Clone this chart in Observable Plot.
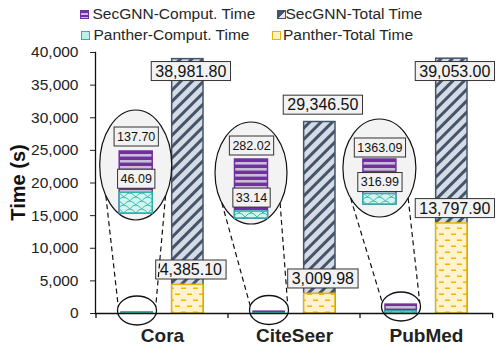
<!DOCTYPE html>
<html><head><meta charset="utf-8">
<script src="https://cdn.jsdelivr.net/npm/d3@7"></script>
<script src="https://cdn.jsdelivr.net/npm/@observablehq/plot@0.6"></script>
<style>
body{margin:0;background:#fff;font-family:"Liberation Sans",Arial,sans-serif;}
#wrap{position:relative;width:498px;height:350px;overflow:hidden;}
#legend{position:relative;height:45px;width:498px;font-size:15.5px;color:#262626;}
.li{position:absolute;white-space:nowrap;line-height:18px;}
.sw{position:absolute;box-sizing:border-box;width:9px;height:9px;}
</style></head><body>
<div id="wrap"><div id="legend"></div><div id="chart"></div></div>
<script>
// ---- data ----
const datasets = ["Cora", "CiteSeer", "PubMed"];
const secgnnComput = [137.70, 282.02, 1363.09];
const pantherComput = [46.09, 33.14, 316.99];
const secgnnTotal = [38981.80, 29346.50, 39053.00];
const pantherTotal = [4385.10, 3009.98, 13797.90];
const yTicks = [0, 5000, 10000, 15000, 20000, 25000, 30000, 35000, 40000];
const seriesNames = ["SecGNN-Comput. Time", "SecGNN-Total Time", "Panther-Comput. Time", "Panther-Total Time"];
const yTitle = "Time (s)";

// ---- layout ----
const W = 498, H = 305, ML = 95, MR = 5, MT = 7, MB = 37;
const BW = (W - ML - MR) / datasets.length, BAR = 32, SIDE = 25, INNER = BW - SIDE - BAR;
const totC = BW / 2 - SIDE - BAR / 2;
const fmtMain = d3.format(",.2f"), fmtSmall = d3.format(".2f");
const rows = datasets.map((g, i) => ({g, sc: secgnnComput[i], pc: pantherComput[i], st: secgnnTotal[i], pt: pantherTotal[i]}));

const col = {
  sc: {fill: "url(#pSecComp)", stroke: "#7030a0"},
  pc: {fill: "url(#pPanComp)", stroke: "#2bb5a9"},
  st: {fill: "url(#pSecTot)", stroke: "#44546a"},
  pt: {fill: "url(#pPanTot)", stroke: "#e8b400"}
};

// ---- legend ----
const legendItems = [
  {name: seriesNames[0], sw: 80, tx: 92.5, top: 4.6, swTop: 10, style: "border:1px solid #7030a0;background:repeating-linear-gradient(#7030a0 0 2px,#c9b8e0 2px 4px);"},
  {name: seriesNames[1], sw: 277, tx: 285.5, top: 4.6, swTop: 10, style: "border:1px solid #44546a;background:linear-gradient(135deg,#44546a 55%,#e6eaf0 55%);"},
  {name: seriesNames[2], sw: 81, tx: 93.5, top: 25.6, swTop: 31, style: "border:1.5px solid #2bb5a9;background:#bfeee8;"},
  {name: seriesNames[3], sw: 272, tx: 283, top: 25.6, swTop: 31, style: "border:1.5px solid #e8b400;background:#fff2cc;"}
];
const leg = document.getElementById("legend");
for (const it of legendItems) {
  const s = document.createElement("div");
  s.className = "sw"; s.style.cssText = `left:${it.sw}px;top:${it.swTop}px;` + it.style;
  leg.appendChild(s);
  const t = document.createElement("div");
  t.className = "li"; t.style.left = it.tx + "px"; t.style.top = it.top + "px"; t.textContent = it.name;
  leg.appendChild(t);
}

// ---- main plot ----
const plot = Plot.plot({
  width: W, height: H, marginLeft: ML, marginRight: MR, marginTop: MT, marginBottom: MB,
  style: {fontFamily: "'Liberation Sans', Arial, sans-serif", color: "#222", background: "#fff", overflow: "visible"},
  x: {domain: datasets, padding: 0},
  y: {domain: [0, 40000]},
  marks: [
    Plot.barY(rows, {x: "g", y: "sc", insetLeft: SIDE, insetRight: INNER, ...col.sc, strokeWidth: 1.5}),
    Plot.barY(rows, {x: "g", y: "pc", insetLeft: SIDE, insetRight: INNER, ...col.pc, strokeWidth: 1.5}),
    Plot.barY(rows, {x: "g", y: "st", insetLeft: INNER, insetRight: SIDE, ...col.st, strokeWidth: 1.5}),
    Plot.barY(rows, {x: "g", y: "pt", insetLeft: INNER, insetRight: SIDE, ...col.pt, strokeWidth: 1.5}),
    Plot.ruleY([0], {stroke: "#111", strokeWidth: 1.3}),
    Plot.frame({anchor: "left", stroke: "#111", strokeWidth: 1.3}),
    Plot.axisY({ticks: yTicks, tickFormat: d3.format(","), tickSize: 5, tickPadding: 12, fontSize: 15.5, label: null}),
    Plot.axisX({tickSize: 0, tickPadding: 15, fontSize: 19, fontWeight: "bold", label: null}),
    Plot.text(rows, {x: "g", y: d => Math.min(d.st + 2600, 37100), text: d => fmtMain(d.st), dx: totC + 3, fontSize: 16, fill: "#111", ariaLabel: () => "boxed"}),
    Plot.text(rows, {x: "g", y: "pt", text: d => fmtMain(d.pt), dx: totC + 3, dy: -15, fontSize: 16, fill: "#111", ariaLabel: () => "boxed"})
  ]
});
document.getElementById("chart").appendChild(plot);
const svg = d3.select(plot);
const xs = plot.scale("x"), ys = plot.scale("y");

// ---- patterns ----
const defs = svg.insert("defs", ":first-child");
function pat(id, w, h, tr) {
  const p = defs.append("pattern").attr("id", id).attr("patternUnits", "userSpaceOnUse").attr("width", w).attr("height", h);
  if (tr) p.attr("patternTransform", tr);
  return p;
}
let p = pat("pSecComp", 8, 6);
p.append("rect").attr("width", 8).attr("height", 6).attr("fill", "#7030a0");
p.append("rect").attr("y", 3).attr("width", 8).attr("height", 2.6).attr("fill", "#c6c0d6");
p = pat("pSecTot", 8, 8, "rotate(45)");
p.append("rect").attr("width", 8).attr("height", 8).attr("fill", "#d6dce5");
p.append("rect").attr("width", 3).attr("height", 8).attr("fill", "#44546a");
p = pat("pPanTot", 12, 12);
p.append("rect").attr("width", 12).attr("height", 12).attr("fill", "#fff2cc");
p.append("rect").attr("x", 1).attr("y", 2.5).attr("width", 5).attr("height", 1.5).attr("fill", "#f2b500");
p.append("rect").attr("x", 7).attr("y", 8.5).attr("width", 5).attr("height", 1.5).attr("fill", "#f2b500");
p = pat("pPanComp", 12, 8);
p.append("rect").attr("width", 12).attr("height", 8).attr("fill", "#d2f5ef");
p.append("path").attr("d", "M0,8 Q6,0 12,8 M-6,4 Q0,-4 6,4 M6,4 Q12,-4 18,4").attr("fill", "none").attr("stroke", "#2bb5a9").attr("stroke-width", 0.9);

// ---- y title & x boundary ticks ----
svg.append("text").attr("transform", `translate(17.5,${(MT + H - MB) / 2}) rotate(-90)`)
  .attr("text-anchor", "middle").attr("dominant-baseline", "central")
  .style("font-weight", "bold").style("font-size", "20px").attr("fill", "#111").text(yTitle);
const y0 = ys.apply(0);
const bounds = datasets.map(g => xs.apply(g)).concat([xs.apply(datasets[datasets.length - 1]) + BW]);
for (const b of bounds) svg.append("line").attr("x1", b).attr("x2", b).attr("y1", y0).attr("y2", y0 + 5).attr("stroke", "#111").attr("stroke-width", 1.3);

// ---- zoom insets ----
const insetLayout = [
  {shift: -1.3, cy: 120, rx: 36, ry: 55, base: 168, h: 62, secDy: -15, panDy: -14, scy: 265.5, a: 34, b: 16},
  {shift: -18, cy: 128, rx: 36, ry: 51, base: 173, h: 59, secDy: -14, panDy: -14, scy: 265, a: 36, b: 16},
  {shift: -21.6, cy: 123, rx: 36.5, ry: 49, base: 159, h: 45, secDy: -12, panDy: -12, scy: 261.5, a: 38, b: 16}
];
const deco = svg.append("g");
const IW = 60, IT = 30, IB = 33;
rows.forEach((r, i) => {
  const L = insetLayout[i];
  const cc = xs.apply(r.g) + SIDE + BAR / 2;
  const cx = cc + L.shift;
  const ra = L.a * Math.PI / 180, rb = L.b * Math.PI / 180;
  deco.append("ellipse").attr("cx", cx).attr("cy", L.cy).attr("rx", L.rx).attr("ry", L.ry)
    .attr("fill", "#f3f3f3").attr("stroke", "#111").attr("stroke-width", 1.2);
  deco.append("ellipse").attr("cx", cc).attr("cy", L.scy).attr("rx", 19.5).attr("ry", 14.5)
    .attr("fill", "none").attr("stroke", "#111").attr("stroke-width", 1.3);
  for (const s of [-1, 1]) {
    deco.append("line")
      .attr("x1", cx + s * L.rx * Math.cos(ra)).attr("y1", L.cy + L.ry * Math.sin(ra))
      .attr("x2", cc + s * 19.5 * Math.cos(rb)).attr("y2", L.scy - 14.5 * Math.sin(rb))
      .attr("stroke", "#111").attr("stroke-width", 1.2).attr("stroke-dasharray", "5,3.5");
  }
  const ip = Plot.plot({
    width: IW, height: IT + L.h, marginTop: IT, marginBottom: 0, marginLeft: 0, marginRight: 0,
    x: {domain: [r.g], padding: 0, axis: null}, y: {domain: [0, r.sc], axis: null},
    marks: [
      Plot.barY([r], {x: "g", y: "sc", insetLeft: (IW - IB) / 2, insetRight: (IW - IB) / 2, ...col.sc, strokeWidth: 1.5}),
      Plot.barY([r], {x: "g", y: "pc", insetLeft: (IW - IB) / 2, insetRight: (IW - IB) / 2, ...col.pc, strokeWidth: 1.5}),
      Plot.text([r], {x: "g", y: "sc", text: d => fmtSmall(d.sc), dy: L.secDy, fontSize: 12.5, fill: "#111", ariaLabel: () => "boxedsm"}),
      Plot.text([r], {x: "g", y: "pc", text: d => fmtSmall(d.pc), dy: L.panDy, fontSize: 12.5, fill: "#111", ariaLabel: () => "boxedsm"})
    ]
  });
  const gi = svg.append("g").attr("transform", `translate(${cx - IW / 2},${L.base - L.h - IT})`);
  for (const ch of [...ip.childNodes]) if (ch.tagName !== "style") gi.node().appendChild(ch);
});

// ---- label boxes ----
function boxify(label, px, py) {
  svg.selectAll("text").filter(function () { return this.getAttribute("aria-label") === label; }).each(function () {
    const b = this.getBBox();
    const r = document.createElementNS("http://www.w3.org/2000/svg", "rect");
    r.setAttribute("x", b.x - px); r.setAttribute("y", b.y - py);
    r.setAttribute("width", b.width + 2 * px); r.setAttribute("height", b.height + 2 * py);
    r.setAttribute("fill", "#f2f2f2"); r.setAttribute("stroke", "#333"); r.setAttribute("stroke-width", 1);
    const t = this.getAttribute("transform"); if (t) r.setAttribute("transform", t);
    this.parentNode.insertBefore(r, this);
  });
}
boxify("boxed", 4, 1);
boxify("boxedsm", 3, 2.5);
</script></body></html>
